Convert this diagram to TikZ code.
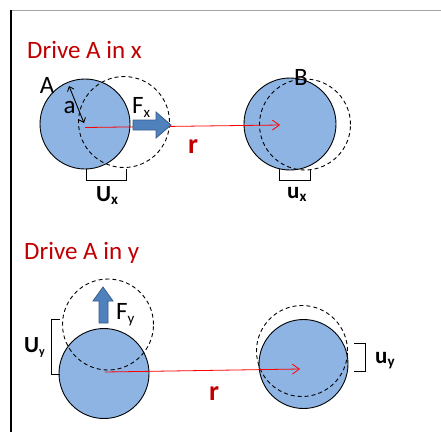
\documentclass[tikz,border=0pt]{standalone}
\usepackage{fontspec}
\setmainfont{Carlito}
\usetikzlibrary{arrows.meta}
\definecolor{ballblue}{RGB}{141,180,226}
\definecolor{arrowblue}{RGB}{79,129,189}
\definecolor{arrowedge}{RGB}{56,93,138}
\definecolor{titlered}{RGB}{192,0,0}
\newcommand{\sbs}[2]{\raisebox{-0.35ex}{\fontsize{#1}{#1}\selectfont #2}}
\tikzset{
  ball/.style={circle, draw=black, line width=0.9pt, fill=ballblue, inner sep=0pt, minimum size=#1},
  ghost/.style={circle, draw=black, line width=0.9pt, dash pattern=on 4pt off 3pt, inner sep=0pt, minimum size=#1},
  sepvec/.style={red, line width=0.8pt, -{Straight Barb[length=7pt,width=10pt]}},
  force/.style={fill=arrowblue, draw=arrowedge, line width=0.8pt, line join=miter},
  brack/.style={black, line width=0.9pt},
  title/.style={text=titlered, font=\fontsize{25}{29}\selectfont, inner sep=0pt},
  lbl/.style={font=\fontsize{25}{29}\selectfont, inner sep=0pt},
  blbl/.style={font=\bfseries\fontsize{23}{27}\selectfont, inner sep=0pt},
  rlbl/.style={text=titlered, font=\bfseries\fontsize{28}{31}\selectfont, inner sep=0pt},
}
\begin{document}
\begin{tikzpicture}[x=1pt,y=-1pt]
\useasboundingbox (0,0) rectangle (441,432);
% frame
\draw[gray!70, line width=0.9pt] (11,10) -- (441,10);
\draw[black, line width=1.2pt] (11,10) -- (11,432);

% ---------- Drive A in x ----------
\node[title, anchor=base west] (t1) at (27,58) {Drive A in x};
\node[ball=90pt] (A1) at (85,124) {};
\node[ghost=91pt] (A1g) at (124,122) {};
\node[ball=92pt] (B1) at (290,124) {};
\node[ghost=91pt] (B1g) at (305,124.5) {};
\coordinate (r1s) at (85,127.5);
\coordinate (r1e) at (280,125);
\draw[sepvec] (r1s) -- (r1e);
\draw[force] (133,120) -- (156,120) -- (156,112) -- (171,125) -- (156,138) -- (156,130) -- (133,130) -- cycle;
\coordinate (a1) at (69,86);
\coordinate (a2) at (84,123);
\draw[line width=0.9pt, {Straight Barb[length=4pt,width=7pt]}-{Straight Barb[length=4pt,width=7pt]}] (a1) -- (a2);
\node[lbl, anchor=base] (lA) at (47,93) {A};
\node[lbl, anchor=base] (la) at (69.5,113) {a};
\node[lbl, anchor=base west] (lF1) at (132,113) {F\sbs{15}{x}};
\node[rlbl, anchor=base] (lr1) at (193,153) {r};
\node[lbl, anchor=base] (lB) at (301,85) {B};
\draw[brack] (86,169) -- (86,180) -- (126,180) -- (126,169);
\node[blbl, anchor=base west] (lU1) at (96,201) {U\sbs{15}{x}};
\draw[brack] (279,169) -- (279,180) -- (310,180) -- (310,169);
\node[blbl, anchor=base west] (lu1) at (287,198) {u\sbs{15}{x}};

% ---------- Drive A in y ----------
\node[title, anchor=base west] (t2) at (24,259) {Drive A in y};
\node[ball=90pt] (A2) at (104,373.5) {};
\node[ghost=91pt] (A2g) at (108,324.5) {};
\node[ball=89pt] (B2) at (303.5,364) {};
\node[ghost=91pt] (B2g) at (302,351) {};
\coordinate (r2s) at (105,372);
\coordinate (r2e) at (300,369);
\draw[sepvec] (r2s) -- (r2e);
\draw[force] (99,323) -- (99,301) -- (93,301) -- (103,287) -- (113,301) -- (108,301) -- (108,323) -- cycle;
\node[lbl, anchor=base west] (lF2) at (116,319) {F\sbs{15}{y}};
\draw[brack] (60,319) -- (51,319) -- (51,374) -- (60,374);
\node[blbl, anchor=base west] (lU2) at (24,352) {U\sbs{12}{y}};
\node[rlbl, anchor=base] (lr2) at (214,400) {r};
\draw[brack] (354,343) -- (365,343) -- (365,371) -- (354,371);
\node[blbl, anchor=base west] (lu2) at (375,363) {u\sbs{15}{y}};
\end{tikzpicture}
\end{document}
